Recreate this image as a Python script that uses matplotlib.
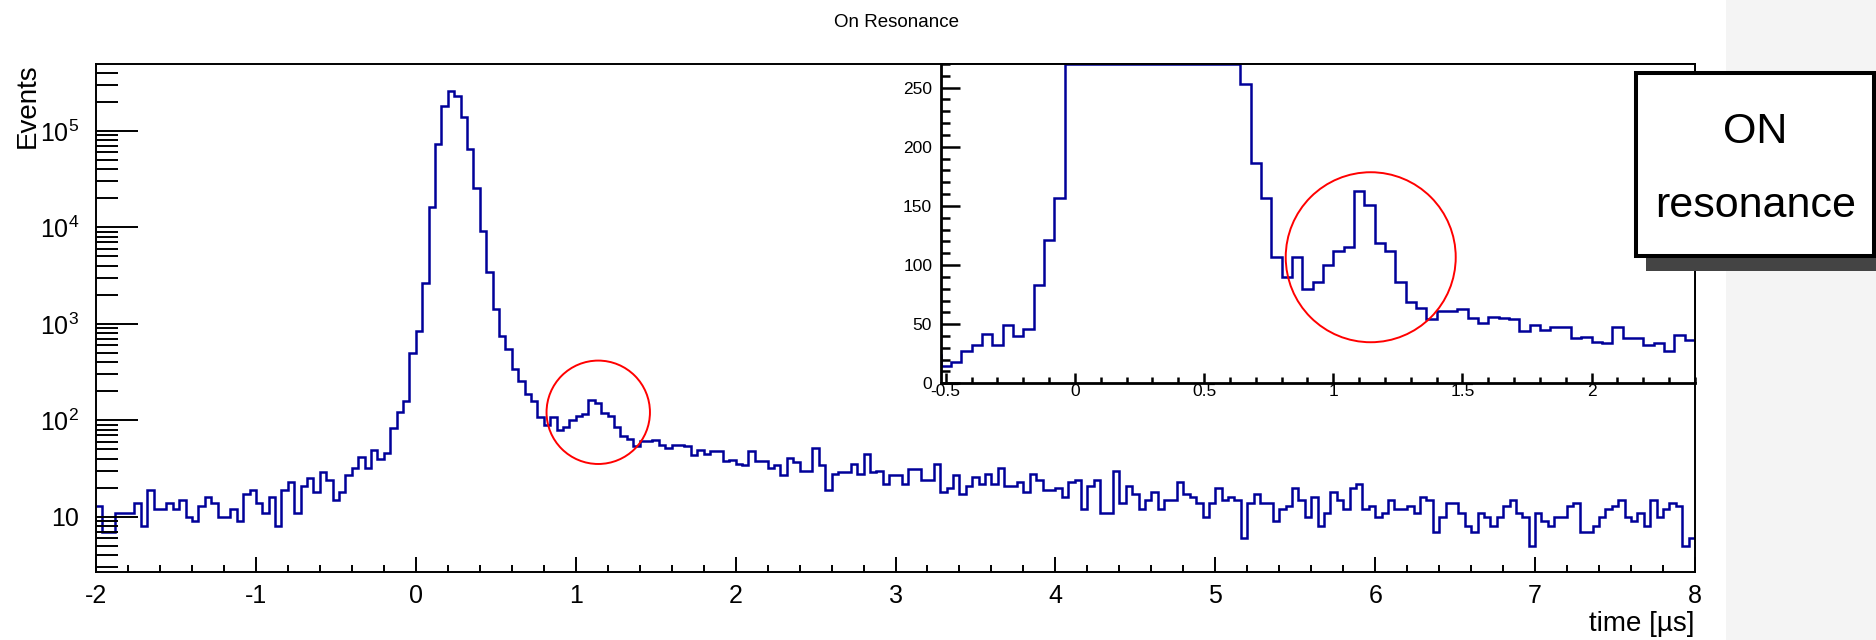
import numpy as np
import matplotlib
matplotlib.use('Agg')
import matplotlib.pyplot as plt
from matplotlib.patches import Rectangle, Circle
from matplotlib.ticker import (FixedLocator, FixedFormatter, MultipleLocator,
                               LogLocator, NullFormatter)
from matplotlib.transforms import IdentityTransform

plt.rcParams['font.family'] = ['Liberation Sans', 'DejaVu Sans']
plt.rcParams['mathtext.fontset'] = 'custom'
plt.rcParams['mathtext.rm'] = 'Liberation Sans'
plt.rcParams['mathtext.it'] = 'Liberation Sans:italic'
plt.rcParams['mathtext.bf'] = 'Liberation Sans:bold'
plt.rcParams['mathtext.sf'] = 'Liberation Sans'
plt.rcParams['axes.unicode_minus'] = False

# ---------------- data ----------------
t_min, t_max, n_bins = -2.0, 8.0, 250

events = [
    13, 7, 7, 11, 11, 11, 14, 8, 19, 12,
    12, 14, 12, 15, 10, 9, 13, 16, 14, 10,
    10, 12, 9, 17, 19, 14, 11, 16, 8, 19,
    23, 11, 21, 25, 18, 29, 24, 15, 18, 27,
    32, 42, 32, 49, 40, 46, 83, 121, 157, 502,
    849, 2670, 16400, 72800, 182000, 261000, 231000, 138700, 64700, 25500,
    9270, 3475, 1439, 748, 544, 337, 253, 186, 157, 107,
    90, 107, 80, 86, 100, 112, 115, 163, 151, 119,
    112, 86, 69, 64, 54, 61, 61, 63, 55, 51,
    56, 55, 54, 44, 49, 45, 48, 48, 38, 39,
    35, 34, 48, 38, 38, 32, 34, 27, 41, 37,
    30, 30, 52, 34, 19, 28, 29, 29, 35, 28,
    45, 29, 30, 22, 27, 27, 22, 31, 31, 24,
    24, 35, 18, 20, 27, 17, 21, 26, 22, 28,
    22, 32, 21, 21, 23, 18, 28, 24, 19, 19,
    20, 16, 23, 24, 12, 21, 24, 11, 11, 30,
    14, 21, 17, 12, 15, 18, 12, 15, 15, 23,
    17, 16, 14, 10, 14, 20, 15, 16, 15, 6,
    14, 17, 14, 14, 9, 12, 13, 20, 15, 10,
    16, 8, 11, 18, 15, 12, 20, 22, 12, 13,
    10, 11, 15, 12, 12, 13, 11, 16, 15, 7,
    10, 14, 14, 11, 8, 7, 11, 10, 8, 10,
    13, 15, 11, 10, 5, 11, 9, 8, 10, 10,
    13, 14, 7, 7, 8, 10, 12, 13, 15, 10,
    9, 11, 8, 15, 10, 12, 14, 13, 5, 6,
]

title = "On Resonance"
xlabel = "time [µs]"
ylabel = "Events"
legend_lines = ["ON", "resonance"]

main_xticks = [-2, -1, 0, 1, 2, 3, 4, 5, 6, 7, 8]
main_xticklabels = ['-2', '-1', '0', '1', '2', '3', '4', '5', '6', '7', '8']
main_yticks = [10, 100, 1000, 10000, 100000]
main_yticklabels = ['10', '$10^{2}$', '$10^{3}$', '$10^{4}$', '$10^{5}$']

inset_xticks = [-0.5, 0, 0.5, 1, 1.5, 2]
inset_xticklabels = ['-0.5', '0', '0.5', '1', '1.5', '2']
inset_yticks = [0, 50, 100, 150, 200, 250]
inset_yticklabels = ['0', '50', '100', '150', '200', '250']

main_circle_center = (1.141, 121.0)
inset_circle_center = (1.145, 106.6)

# ---------------- figure ----------------
W, H = 1876, 640
fig = plt.figure(figsize=(W / 100, H / 100), dpi=100)
fig.patch.set_facecolor('white')

# grey strip at right
fig.add_artist(Rectangle((1726 / W, 0), (W - 1726) / W, 1, transform=fig.transFigure,
                         facecolor='#f4f4f4', edgecolor='none', zorder=0))

line_color = '#000099'
edges = np.linspace(t_min, t_max, n_bins + 1)
vals = np.array(events, dtype=float)

# main axes
ax = fig.add_axes([96 / W, 1 - 572 / H, (1695 - 96) / W, (572 - 64) / H])
ax.stairs(vals, edges, baseline=None, color=line_color, lw=1.8)
ax.set_yscale('log')
ax.set_xlim(t_min, t_max)
ax.set_ylim(2.67, 4.95e5)

ax.xaxis.set_major_locator(FixedLocator(main_xticks))
ax.xaxis.set_major_formatter(FixedFormatter(main_xticklabels))
ax.xaxis.set_minor_locator(MultipleLocator(0.2))
ax.yaxis.set_major_locator(FixedLocator(main_yticks))
ax.yaxis.set_major_formatter(FixedFormatter(main_yticklabels))
ax.yaxis.set_minor_locator(LogLocator(base=10, subs=np.arange(2, 10), numticks=100))
ax.yaxis.set_minor_formatter(NullFormatter())

ax.tick_params(axis='both', which='both', direction='in', top=False, right=False,
               color='black')
ax.tick_params(axis='y', which='major', length=30, width=1.4, pad=12, labelsize=18)
ax.tick_params(axis='y', which='minor', length=16, width=1.4)
ax.tick_params(axis='x', which='major', length=11, width=1.4, pad=8.5, labelsize=18)
ax.tick_params(axis='x', which='minor', length=5, width=1.4)
for s in ax.spines.values():
    s.set_linewidth(1.4)
    s.set_color('black')

# inset axes
axi = fig.add_axes([940.5 / W, 1 - 383.3 / H, (1695 - 940.5) / W, (383.3 - 64) / H])
inset_top = 270
axi.stairs(np.minimum(vals, inset_top), edges, baseline=None, color=line_color, lw=1.8)
axi.set_xlim(-0.52, 2.4)
axi.set_ylim(0, inset_top)
axi.xaxis.set_major_locator(FixedLocator(inset_xticks))
axi.xaxis.set_major_formatter(FixedFormatter(inset_xticklabels))
axi.xaxis.set_minor_locator(MultipleLocator(0.1))
axi.yaxis.set_major_locator(FixedLocator(inset_yticks))
axi.yaxis.set_major_formatter(FixedFormatter(inset_yticklabels))
axi.yaxis.set_minor_locator(MultipleLocator(10))
axi.tick_params(axis='both', which='both', direction='in', top=False, right=False,
                color='black')
axi.tick_params(axis='y', which='major', length=13.4, width=1.8, pad=6, labelsize=12.5)
axi.tick_params(axis='y', which='minor', length=6.7, width=1.8)
axi.tick_params(axis='x', which='major', length=7.2, width=1.8, pad=0.6, labelsize=12.5)
axi.tick_params(axis='x', which='minor', length=4, width=1.8)
for k, s in axi.spines.items():
    s.set_color('black')
    s.set_linewidth(2.0 if k in ('left', 'bottom') else 1.4)

# red circles (pixel radius, centred on data coordinates)
c1 = ax.transData.transform(main_circle_center)
fig.add_artist(Circle(c1, 51.7, transform=IdentityTransform(), fill=False,
                      edgecolor='red', lw=1.4, zorder=5))
c2 = axi.transData.transform(inset_circle_center)
fig.add_artist(Circle(c2, 85.0, transform=IdentityTransform(), fill=False,
                      edgecolor='red', lw=1.4, zorder=5))

# texts
fig.text(896 / W, 1 - 22.7 / H, title, ha='center', va='center', fontsize=13.5)
fig.text(1694 / W, (H - 631) / H, xlabel, ha='right', va='baseline', fontsize=20)
fig.text(41 / W, 1 - 63 / H, ylabel, rotation=90, ha='right', va='top', fontsize=20)

# legend box with shadow
fig.add_artist(Rectangle((1645.7 / W, (H - 270.7) / H), (1950 - 1645.7) / W,
                         (270.7 - 82.7) / H, transform=fig.transFigure,
                         facecolor='#444444', edgecolor='none', zorder=6))
fig.add_artist(Rectangle((1636 / W, (H - 256.3) / H), (1874 - 1636) / W,
                         (256.3 - 72.7) / H, transform=fig.transFigure,
                         facecolor='white', edgecolor='black', lw=2.9, zorder=7))
fig.text(1755 / W, (H - 143.3) / H, legend_lines[0], ha='center', va='baseline',
         fontsize=31, zorder=8)
fig.text(1756 / W, (H - 216.7) / H, legend_lines[1], ha='center', va='baseline',
         fontsize=31, zorder=8)

fig.savefig('out.png', dpi=100, facecolor=fig.get_facecolor())
